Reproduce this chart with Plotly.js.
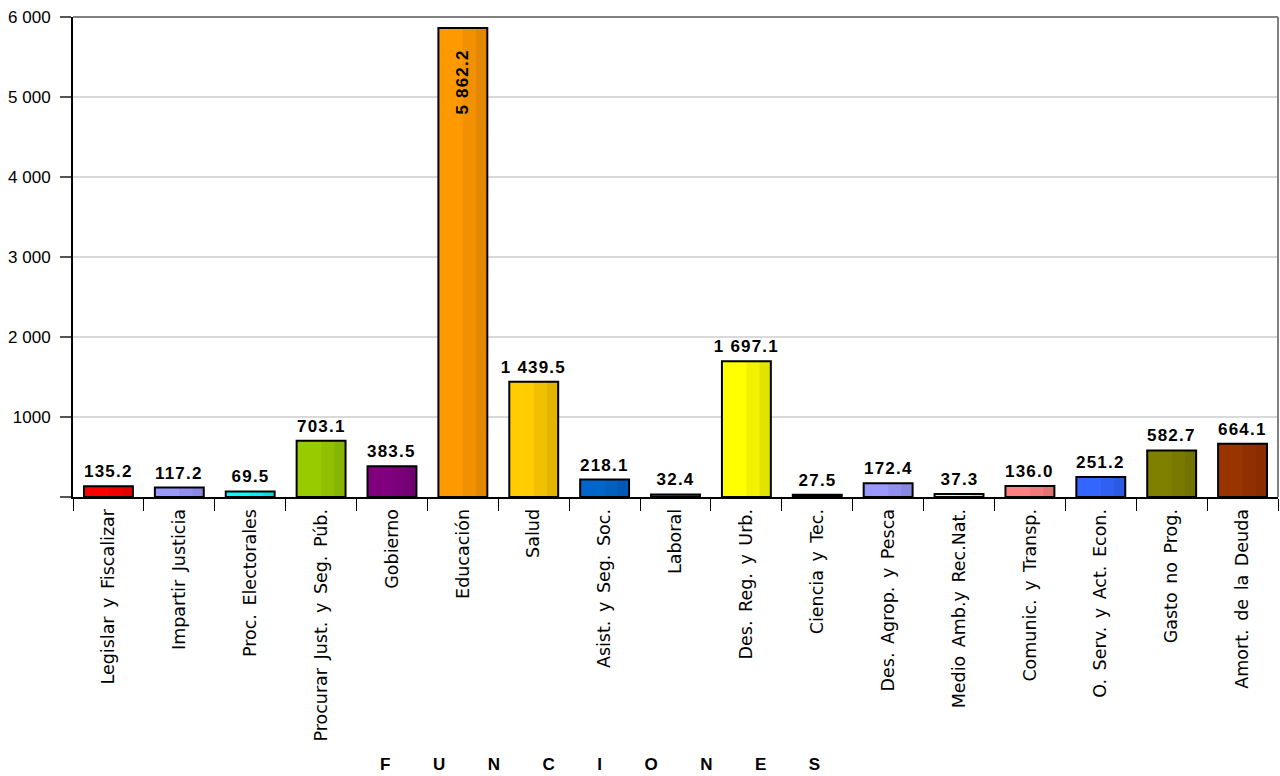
<!DOCTYPE html>
<html>
<head>
<meta charset="utf-8">
<script src="https://cdn.plot.ly/plotly-3.0.1.min.js"></script>
<style>
html,body{margin:0;padding:0;background:#fff;}
#chart{width:1280px;height:776px;}
.annotation text{letter-spacing:1.2px;}
.annotation[data-index="17"] text{letter-spacing:0px;}
.xtick text{word-spacing:3px;}
</style>
</head>
<body>
<div id="chart"></div>
<script>
const categories = ["Legislar y Fiscalizar","Impartir Justicia","Proc. Electorales","Procurar Just. y Seg. Púb.","Gobierno","Educación","Salud","Asist. y Seg. Soc.","Laboral","Des. Reg. y Urb.","Ciencia y Tec.","Des. Agrop. y Pesca","Medio Amb.y Rec.Nat.","Comunic. y Transp.","O. Serv. y Act. Econ.","Gasto no Prog.","Amort. de la Deuda"];
const values = [135.2,117.2,69.5,703.1,383.5,5862.2,1439.5,218.1,32.4,1697.1,27.5,172.4,37.3,136.0,251.2,582.7,664.1];
const barColors = ["#FF0000","#9999FF","#00FFFF","#99CC00","#800080","#FF9900","#FFCC00","#0066CC","#008080","#FFFF00","#000000","#9999FF","#CCFFCC","#FF8080","#3366FF","#808000","#993300"];
const yTickVals = [0,1000,2000,3000,4000,5000,6000];
const yTickText = ["","1000","2 000","3 000","4 000","5 000","6 000"];
const xTitle = "F U N C I O N E S";
const insideLabelIndex = 5;

function fmt(v){
  const s = v.toFixed(1);
  const parts = s.split(".");
  let ip = parts[0];
  if (ip.length > 3) ip = ip.slice(0, ip.length-3) + " " + ip.slice(ip.length-3);
  return ip + "." + parts[1];
}

const BW = 0.69;
const trace = {
  type: "bar",
  x: categories,
  y: values,
  width: BW,
  marker: {color: barColors, line: {color: "#000000", width: 2}},
  hoverinfo: "x+y"
};
// shading bands (right half and right quarter slightly darker)
const shade1 = {
  type: "bar", x: categories, y: values,
  width: BW/2 - 0.01, offset: 0,
  marker: {color: "rgba(0,0,0,0.055)", line: {width: 0}},
  hoverinfo: "skip"
};
const shade2 = {
  type: "bar", x: categories, y: values,
  width: BW*0.23 - 0.01, offset: BW/2 - BW*0.23,
  marker: {color: "rgba(0,0,0,0.055)", line: {width: 0}},
  hoverinfo: "skip"
};

const labelFont = {family: "Liberation Sans, Arial, sans-serif", size: 17, color: "#000", weight: "bold"};

const annotations = categories.map((c, i) => {
  if (i === insideLabelIndex) {
    return {x: c, y: values[i], xref: "x", yref: "y", text: fmt(values[i]), showarrow: false,
      textangle: -90, yanchor: "top", xanchor: "center", yshift: -23, xshift: 0,
      font: labelFont};
  }
  return {x: c, y: values[i], xref: "x", yref: "y", text: fmt(values[i]), showarrow: false,
    yanchor: "bottom", xanchor: "center", yshift: 3,
    font: labelFont};
});

annotations.push({
  x: 0.4375, y: 0, xref: "paper", yref: "paper", yanchor: "top", xanchor: "center",
  yshift: -256, showarrow: false,
  text: xTitle.split(" ").join("\u00a0\u00a0\u00a0\u00a0\u00a0\u00a0\u00a0\u00a0\u00a0"),
  font: {family: "Liberation Sans, Arial, sans-serif", size: 17, color: "#000", weight: "bold"}
});

const layout = {
  width: 1280, height: 776,
  margin: {l: 73, r: 2, t: 17, b: 279},
  paper_bgcolor: "#ffffff", plot_bgcolor: "#ffffff",
  showlegend: false,
  barmode: "overlay",
  xaxis: {
    type: "category",
    tickangle: -90,
    ticks: "outside", ticklen: 12, tickwidth: 1, tickcolor: "#000",
    tickson: "boundaries",
    showline: true, linecolor: "#000", linewidth: 2,
    showgrid: false,
    tickfont: {family: "DejaVu Sans, sans-serif", size: 17.5, color: "#000"},
    ticklabelstandoff: 3
  },
  yaxis: {
    range: [0, 6000],
    tickvals: yTickVals, ticktext: yTickText,
    ticks: "outside", ticklen: 11, tickwidth: 2, tickcolor: "#555",
    showline: true, linecolor: "#000", linewidth: 2,
    showgrid: true, gridcolor: "#d9d9d9", gridwidth: 2,
    zeroline: false,
    tickfont: {family: "Liberation Sans, Arial, sans-serif", size: 17, color: "#000"},
    ticklabelstandoff: 6
  },
  shapes: [
    {type: "line", xref: "paper", yref: "paper", x0: 0, x1: 1, y0: 1, y1: 1, line: {color: "#808080", width: 2}},
    {type: "line", xref: "paper", yref: "paper", x0: 1, x1: 1, y0: 0, y1: 1, line: {color: "#808080", width: 2}}
  ],
  annotations: annotations
};

Plotly.newPlot("chart", [trace, shade1, shade2], layout, {displayModeBar: false, staticPlot: true});
</script>
</body>
</html>
